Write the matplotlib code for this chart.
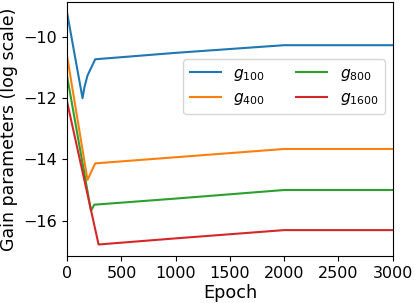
import matplotlib
matplotlib.use('Agg')
import matplotlib.pyplot as plt

# Werte (log-Skala)
ep_100 = [0, 141, 160, 187, 258, 1000, 2000, 3000]
g_100 = [-9.24, -12.0, -11.62, -11.26, -10.73, -10.52, -10.27, -10.27]

ep_400 = [0, 187, 258, 1000, 2000, 3000]
g_400 = [-10.66, -14.67, -14.13, -13.93, -13.66, -13.66]

ep_800 = [0, 219, 249, 1000, 2000, 3000]
g_800 = [-11.31, -15.68, -15.48, -15.28, -15.0, -15.0]

ep_1600 = [0, 289, 1000, 2000, 3000]
g_1600 = [-12.14, -16.78, -16.58, -16.31, -16.31]

labels = ['$g_{100}$', '$g_{400}$', '$g_{800}$', '$g_{1600}$']

plt.rcParams['font.size'] = 11

fig, ax = plt.subplots(figsize=(4.15, 3.03), dpi=100)
ax.plot(ep_100, g_100, color='tab:blue', lw=1.5, label=labels[0])
ax.plot(ep_400, g_400, color='tab:orange', lw=1.5, label=labels[1])
ax.plot(ep_800, g_800, color='tab:green', lw=1.5, label=labels[2])
ax.plot(ep_1600, g_1600, color='tab:red', lw=1.5, label=labels[3])

ax.set_xlim(0, 3000)
ax.set_xticks([0, 500, 1000, 1500, 2000, 2500, 3000])
ax.set_yticks([-16, -14, -12, -10])
ax.tick_params(labelsize=11.5)
ax.set_xlabel('Epoch', fontsize=12.7, labelpad=2)
ax.set_ylabel('Gain parameters (log scale)', fontsize=12.5)

ax.legend(ncol=2, loc='upper right', bbox_to_anchor=(1.0, 0.805),
          fontsize=11.2)

fig.subplots_adjust(left=0.162, right=0.946, top=0.993, bottom=0.155)
fig.savefig('out.png', dpi=100)
